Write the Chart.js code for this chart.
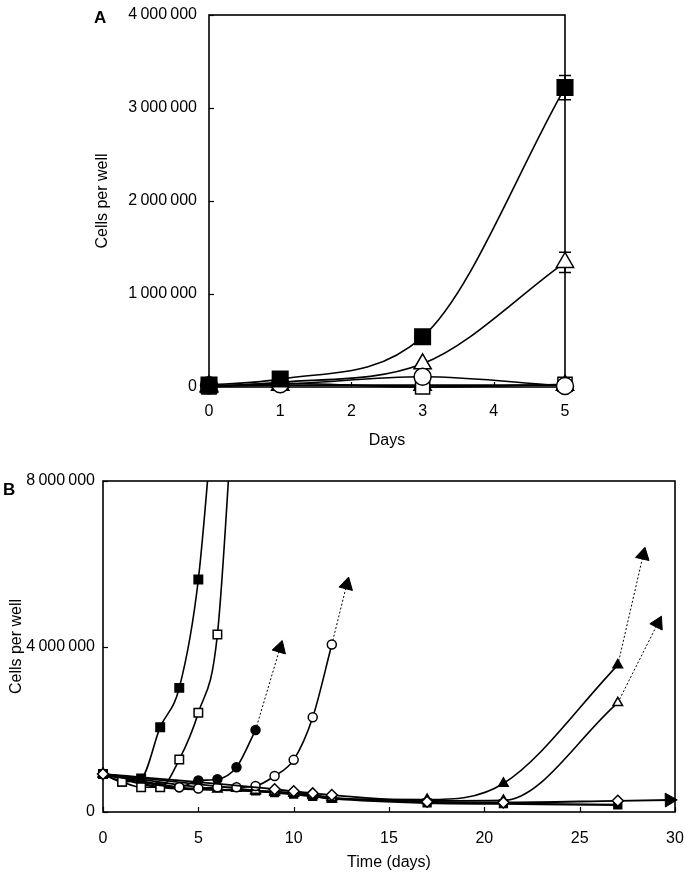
<!DOCTYPE html>
<html><head><meta charset="utf-8">
<script src="https://cdn.jsdelivr.net/npm/chart.js@4/dist/chart.umd.min.js"></script>
<style>
html,body{margin:0;padding:0;background:#fff;}
body{width:685px;height:874px;position:relative;overflow:hidden;font-family:"Liberation Sans",Arial,sans-serif;}
#ca{position:absolute;left:0;top:0;}
#cb{position:absolute;left:0;top:455px;}
.lab{position:absolute;font-weight:bold;font-size:17px;color:#000;}
</style></head><body>
<canvas id="ca" width="685" height="455"></canvas>
<canvas id="cb" width="685" height="419"></canvas>
<div class="lab" style="left:94px;top:8px">A</div>
<div class="lab" style="left:3px;top:480px">B</div>
<script>
// ---------- Panel A data ----------
const daysA = [0, 1, 3, 5];
const aFilledSquare = [20000, 85000, 540000, 3220000];
const aFilledSquareErr = [0, 0, 0, 130000];
const aOpenTriangle = [0, 50000, 250000, 1340000];
const aOpenTriangleErr = [0, 0, 0, 110000];
const aOpenCircle = [20000, 30000, 110000, 10000];
const aOpenSquare = [0, 40000, 0, 30000];
const aFilledTriangle = [10000, 20000, 20000, 20000];
const ticksAy = [0, 1000000, 2000000, 3000000, 4000000];
const ticksAx = [0, 1, 2, 3, 4, 5];
const labelsA = {x: 'Days', y: 'Cells per well'};

// ---------- Panel B data ----------
const bFilledSquareDays = [0, 1, 2, 3, 4, 5, 6];
const bFilledSquare = [920000, 730000, 810000, 2050000, 3000000, 5620000, 10900000];
const bOpenSquareDays = [0, 1, 2, 3, 4, 5, 6, 7];
const bOpenSquare = [920000, 730000, 600000, 600000, 1270000, 2400000, 4290000, 11200000];
const bFilledCircleDays = [0, 4, 5, 6, 7, 8];
const bFilledCircle = [920000, 600000, 760000, 790000, 1080000, 1980000];
const bFilledCircleArrowDays = [8, 9.28];
const bFilledCircleArrow = [1980000, 3960000];
const bOpenCircleDays = [0, 4, 5, 6, 7, 8, 9, 10, 11, 12];
const bOpenCircle = [920000, 600000, 570000, 600000, 600000, 630000, 870000, 1260000, 2290000, 4050000];
const bOpenCircleArrowDays = [12, 12.78];
const bOpenCircleArrow = [4050000, 5490000];
const bFilledTriangleDays = [0, 6, 8, 9, 10, 11, 12, 17, 21, 27];
const bFilledTriangle = [920000, 550000, 500000, 470000, 450000, 390000, 310000, 300000, 690000, 3550000];
const bFilledTriangleArrowDays = [27, 28.33];
const bFilledTriangleArrow = [3550000, 6210000];
const bOpenTriangleDays = [0, 7, 8, 9, 10, 11, 12, 17, 21, 27];
const bOpenTriangle = [920000, 570000, 520000, 500000, 460000, 420000, 350000, 270000, 280000, 2640000];
const bOpenTriangleArrowDays = [27, 29.1];
const bOpenTriangleArrow = [2640000, 4560000];
const bOpenDiamondDays = [0, 9, 10, 11, 12, 17, 21, 27];
const bOpenDiamond = [920000, 550000, 500000, 450000, 410000, 250000, 230000, 270000];
const bOpenDiamondArrowDays = [27, 29.7];
const bOpenDiamondArrow = [270000, 290000];
const bFlatSquareDays = [0, 3, 8, 9, 10, 11, 12, 17, 21, 27];
const bFlatSquare = [920000, 600000, 510000, 470000, 430000, 380000, 330000, 220000, 200000, 170000];
const ticksBy = [0, 4000000, 8000000];
const ticksBx = [0, 5, 10, 15, 20, 25, 30];
const labelsB = {x: 'Time (days)', y: 'Cells per well'};

// ---------- helpers ----------
const FONT = '"Liberation Sans", Arial, sans-serif';
const pts = (xs, ys) => xs.map((x, i) => ({x: x, y: ys[i]}));
const fmt = v => String(v).replace(/\B(?=(\d{3})+(?!\d))/g, '\u2009');
const CLIP_TOP = {left: false, right: false, top: 0, bottom: false};

function series(xs, ys, style, r, filled, extra) {
  return Object.assign({
    data: pts(xs, ys),
    borderColor: '#000', borderWidth: 1.6,
    pointStyle: style, pointRadius: r,
    pointBackgroundColor: filled ? '#000' : '#fff',
    pointBorderColor: '#000', pointBorderWidth: 1.5,
    tension: 0.4, cubicInterpolationMode: 'monotone', fill: false,
    clip: CLIP_TOP
  }, extra || {});
}
function arrowRotation(ctx) {
  const c = ctx.chart, d = ctx.dataset.data;
  const xs = c.scales.x, ys = c.scales.y;
  const dx = xs.getPixelForValue(d[1].x) - xs.getPixelForValue(d[0].x);
  const dy = ys.getPixelForValue(d[1].y) - ys.getPixelForValue(d[0].y);
  return Math.atan2(dx, -dy) * 180 / Math.PI;
}
function arrow(xs, ys, dashed) {
  return {
    data: pts(xs, ys),
    borderColor: '#000', borderWidth: dashed ? 1 : 1.8,
    borderDash: dashed ? [2, 2] : [],
    pointStyle: 'triangle', pointRadius: [0, 8],
    pointBackgroundColor: '#000', pointBorderColor: '#000', pointBorderWidth: 1,
    rotation: arrowRotation, tension: 0, fill: false, clip: false
  };
}

const frameTicks = {
  id: 'frameTicks',
  beforeDatasetsDraw(chart) {
    const {ctx, chartArea: a, scales: {x, y}} = chart;
    ctx.save();
    ctx.strokeStyle = '#000';
    ctx.lineWidth = 1.6;
    ctx.strokeRect(a.left, a.top, a.right - a.left, a.bottom - a.top);
    ctx.lineWidth = 1.2;
    const L = 5;
    x.ticks.forEach(t => {
      const px = Math.round(x.getPixelForValue(t.value)) + 0.5;
      ctx.beginPath(); ctx.moveTo(px, a.bottom); ctx.lineTo(px, a.bottom - L); ctx.stroke();
    });
    y.ticks.forEach(t => {
      const py = Math.round(y.getPixelForValue(t.value)) + 0.5;
      ctx.beginPath(); ctx.moveTo(a.left, py); ctx.lineTo(a.left + L, py); ctx.stroke();
    });
    // error bars
    chart.data.datasets.forEach(ds => {
      if (!ds.errors) return;
      ctx.lineWidth = 1.5;
      ds.data.forEach((p, i) => {
        const e = ds.errors[i];
        if (!e) return;
        const px = x.getPixelForValue(p.x);
        const top = y.getPixelForValue(p.y + e), bot = y.getPixelForValue(p.y - e);
        ctx.beginPath();
        ctx.moveTo(px, top); ctx.lineTo(px, bot);
        ctx.moveTo(px - 6, top); ctx.lineTo(px + 6, top);
        ctx.moveTo(px - 6, bot); ctx.lineTo(px + 6, bot);
        ctx.stroke();
      });
    });
    ctx.restore();
  }
};

function axes(o) {
  return {
    x: {
      type: 'linear', min: o.xmin, max: o.xmax,
      afterBuildTicks: s => { s.ticks = o.xt.map(v => ({value: v})); },
      afterFit: s => { s.height = o.xh; s.paddingLeft = 0; s.paddingRight = 0; },
      grid: {display: false, drawTicks: false},
      border: {display: false},
      ticks: {padding: o.xpad, color: '#000', font: {family: FONT, size: 16}, maxRotation: 0, callback: v => String(v)},
      title: {display: true, text: o.xlabel, color: '#000', font: {family: FONT, size: 16}, padding: {top: 0, bottom: o.xtp}}
    },
    y: {
      type: 'linear', min: o.ymin, max: o.ymax,
      afterBuildTicks: s => { s.ticks = o.yt.map(v => ({value: v})); },
      afterFit: s => { s.width = o.yw; s.paddingTop = 0; s.paddingBottom = 0; },
      grid: {display: false, drawTicks: false},
      border: {display: false},
      ticks: {padding: o.ypad, color: '#000', font: {family: FONT, size: 16}, callback: v => fmt(v)},
      title: {display: true, text: o.ylabel, color: '#000', font: {family: FONT, size: 16}, padding: {top: o.ytp, bottom: 0}}
    }
  };
}
const common = {
  responsive: false, animation: false,
  plugins: {legend: {display: false}, tooltip: {enabled: false}},
  events: []
};

// ---------- Chart A ----------
new Chart(document.getElementById('ca'), {
  type: 'line',
  data: {datasets: [
    series(daysA, aFilledSquare, 'rect', 11, true, {errors: aFilledSquareErr}),
    series(daysA, aOpenCircle, 'circle', 8.5, false),
    series(daysA, aOpenTriangle, 'triangle', 10, false, {errors: aOpenTriangleErr}),
    series(daysA, aOpenSquare, 'rect', 10, false),
    series(daysA, aFilledTriangle, 'triangle', 10, true)
  ]},
  options: Object.assign({}, common, {
    layout: {padding: {left: 0, right: 120, top: 15, bottom: 0}},
    scales: axes({xmin: 0, xmax: 5, ymin: 0, ymax: 4000000, xt: ticksAx, yt: ticksAy,
      xh: 68, yw: 209, xpad: 15, ypad: 12, xtp: 5, ytp: 93, xlabel: labelsA.x, ylabel: labelsA.y})
  }),
  plugins: [frameTicks]
});

// ---------- Chart B ----------
new Chart(document.getElementById('cb'), {
  type: 'line',
  data: {datasets: [
    series(bOpenDiamondDays, bOpenDiamond, 'rectRot', 5.5, false, {borderWidth: 1.8}),
    arrow(bOpenDiamondArrowDays, bOpenDiamondArrow, false),
    series(bOpenCircleDays, bOpenCircle, 'circle', 4.5, false),
    arrow(bOpenCircleArrowDays, bOpenCircleArrow, true),
    series(bFilledCircleDays, bFilledCircle, 'circle', 4.5, true),
    arrow(bFilledCircleArrowDays, bFilledCircleArrow, true),
    series(bOpenTriangleDays, bOpenTriangle, 'triangle', 5.5, false),
    arrow(bOpenTriangleArrowDays, bOpenTriangleArrow, true),
    series(bFilledTriangleDays, bFilledTriangle, 'triangle', 5.5, true),
    arrow(bFilledTriangleArrowDays, bFilledTriangleArrow, true),
    series(bOpenSquareDays, bOpenSquare, 'rect', 6, false),
    series(bFilledSquareDays, bFilledSquare, 'rect', 6, true),
    series(bFlatSquareDays, bFlatSquare, 'rect', 5.5, true, {borderWidth: 2.2})
  ]},
  options: Object.assign({}, common, {
    layout: {padding: {left: 0, right: 10, top: 26, bottom: 0}},
    scales: axes({xmin: 0, xmax: 30, ymin: 0, ymax: 8000000, xt: ticksBx, yt: ticksBy,
      xh: 62, yw: 103, xpad: 17, ypad: 8, xtp: 2, ytp: 7, xlabel: labelsB.x, ylabel: labelsB.y})
  }),
  plugins: [frameTicks]
});
</script>
</body></html>
